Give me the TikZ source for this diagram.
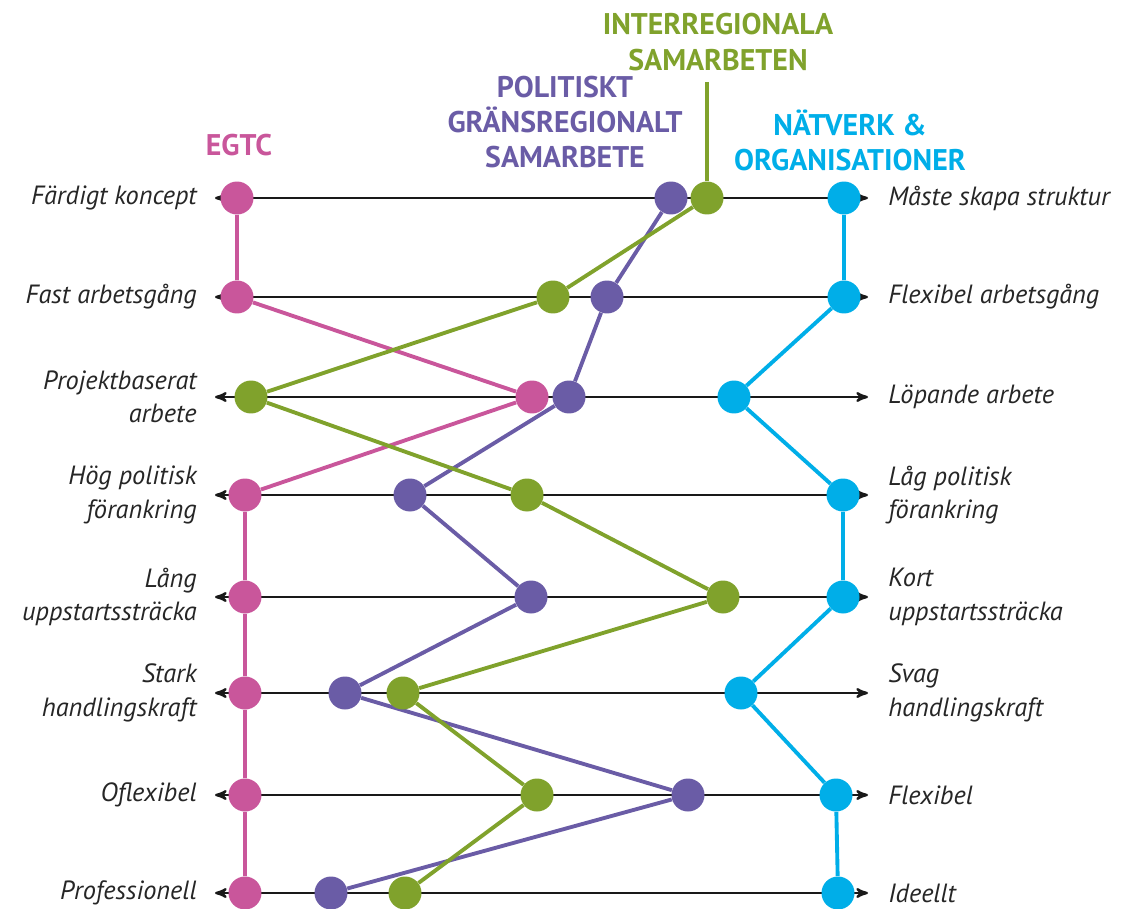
\documentclass[tikz,border=0pt]{standalone}
\usepackage{fontspec}
\setmainfont{PT Sans}
\usetikzlibrary{arrows}
\usetikzlibrary{backgrounds}
\definecolor{egtc}{HTML}{C9569B}
\definecolor{inter}{HTML}{80A22C}
\definecolor{polit}{HTML}{6A5CA6}
\definecolor{natv}{HTML}{00AEE8}
\tikzset{>=stealth'}
\tikzset{dot/.style={circle, fill=#1, minimum size=6.6mm, inner sep=0pt}}
\tikzset{link/.style={line width=2.2pt, draw=#1}}
\tikzset{axis/.style={<->, line width=1.3pt, black!90}}
\tikzset{lab/.style={font=\itshape\fontsize{15}{19}\selectfont, text=black!85, inner sep=0pt}}
\tikzset{head/.style={font=\bfseries\fontsize{17}{20}\selectfont, align=center, text=#1, inner sep=0pt}}

\begin{document}
\begin{tikzpicture}[x=0.02cm, y=-0.02cm]
\useasboundingbox (0,0) rectangle (1126,909);

% ends of the scales
\foreach \y [count=\i] in {198,297,397,495,597,693,795,893} {
  \coordinate (a\i) at (215,\y);
  \coordinate (b\i) at (868,\y);
}

% headings
\node[head=egtc] (hE) at (239,145) {EGTC};
\node[head=polit] (hP) at (565,122) {POLITISKT\\GRÄNSREGIONALT\\SAMARBETE};
\node[head=inter] (hI) at (718,42) {INTERREGIONALA\\SAMARBETEN};
\node[head=natv] (hN) at (850,140) {NÄTVERK \&\\ORGANISATIONER};
\coordinate (gtop) at (707,82);

% left labels
\node[lab, anchor=east] (L1) at (197,198) {Färdigt koncept};
\node[lab, anchor=east] (L2) at (197,297) {Fast arbetsgång};
\node[lab, anchor=east, align=right] (L3) at (197,397) {Projektbaserat\\arbete};
\node[lab, anchor=east, align=right] (L4) at (197,495) {Hög politisk\\förankring};
\node[lab, anchor=east, align=right] (L5) at (197,597) {Lång\\uppstartssträcka};
\node[lab, anchor=east, align=right] (L6) at (197,693) {Stark\\handlingskraft};
\node[lab, anchor=east] (L7) at (197,795) {Oflexibel};
\node[lab, anchor=east] (L8) at (197,893) {Professionell};

% right labels
\node[lab, anchor=west] (R1) at (888,198) {Måste skapa struktur};
\node[lab, anchor=west] (R2) at (888,297) {Flexibel arbetsgång};
\node[lab, anchor=west] (R3) at (888,397) {Löpande arbete};
\node[lab, anchor=west, align=left] (R4) at (888,495) {Låg politisk\\förankring};
\node[lab, anchor=west, align=left] (R5) at (888,597) {Kort\\uppstartssträcka};
\node[lab, anchor=west, align=left] (R6) at (888,693) {Svag\\handlingskraft};
\node[lab, anchor=west] (R7) at (888,795) {Flexibel};
\node[lab, anchor=west] (R8) at (888,893) {Ideellt};

% EGTC
\node[dot=egtc] (e1) at (237,198) {};
\node[dot=egtc] (e2) at (237,297) {};
\node[dot=egtc] (e3) at (532,397) {};
\node[dot=egtc] (e4) at (245,495) {};
\node[dot=egtc] (e5) at (245,597) {};
\node[dot=egtc] (e6) at (245,693) {};
\node[dot=egtc] (e7) at (245,795) {};
\node[dot=egtc] (e8) at (245,893) {};

% politiskt gransregionalt
\node[dot=polit] (p1) at (671,198) {};
\node[dot=polit] (p2) at (607,297) {};
\node[dot=polit] (p3) at (569,397) {};
\node[dot=polit] (p4) at (410,495) {};
\node[dot=polit] (p5) at (531,597) {};
\node[dot=polit] (p6) at (345,693) {};
\node[dot=polit] (p7) at (688,795) {};
\node[dot=polit] (p8) at (331,893) {};

% interregionala
\node[dot=inter] (g1) at (707,198) {};
\node[dot=inter] (g2) at (553,297) {};
\node[dot=inter] (g3) at (251,397) {};
\node[dot=inter] (g4) at (527,495) {};
\node[dot=inter] (g5) at (723,597) {};
\node[dot=inter] (g6) at (403,693) {};
\node[dot=inter] (g7) at (537,795) {};
\node[dot=inter] (g8) at (405,893) {};

% natverk
\node[dot=natv] (n1) at (844,198) {};
\node[dot=natv] (n2) at (844,297) {};
\node[dot=natv] (n3) at (734,397) {};
\node[dot=natv] (n4) at (843,495) {};
\node[dot=natv] (n5) at (843,597) {};
\node[dot=natv] (n6) at (741,693) {};
\node[dot=natv] (n7) at (836,795) {};
\node[dot=natv] (n8) at (838,893) {};

\begin{scope}[on background layer]
\foreach \i in {1,...,8} {
  \draw[axis] (a\i) -- (b\i);
}
\draw[link=egtc] (e1) -- (e2) -- (e3) -- (e4) -- (e5) -- (e6) -- (e7) -- (e8);
\draw[link=polit] (p1) -- (p2) -- (p3) -- (p4) -- (p5) -- (p6) -- (p7) -- (p8);
\draw[link=inter] (g1) -- (g2) -- (g3) -- (g4) -- (g5) -- (g6) -- (g7) -- (g8);
\draw[link=inter] (gtop) -- (g1);
\draw[link=natv] (n1) -- (n2) -- (n3) -- (n4) -- (n5) -- (n6) -- (n7) -- (n8);
\end{scope}
\end{tikzpicture}
\end{document}
